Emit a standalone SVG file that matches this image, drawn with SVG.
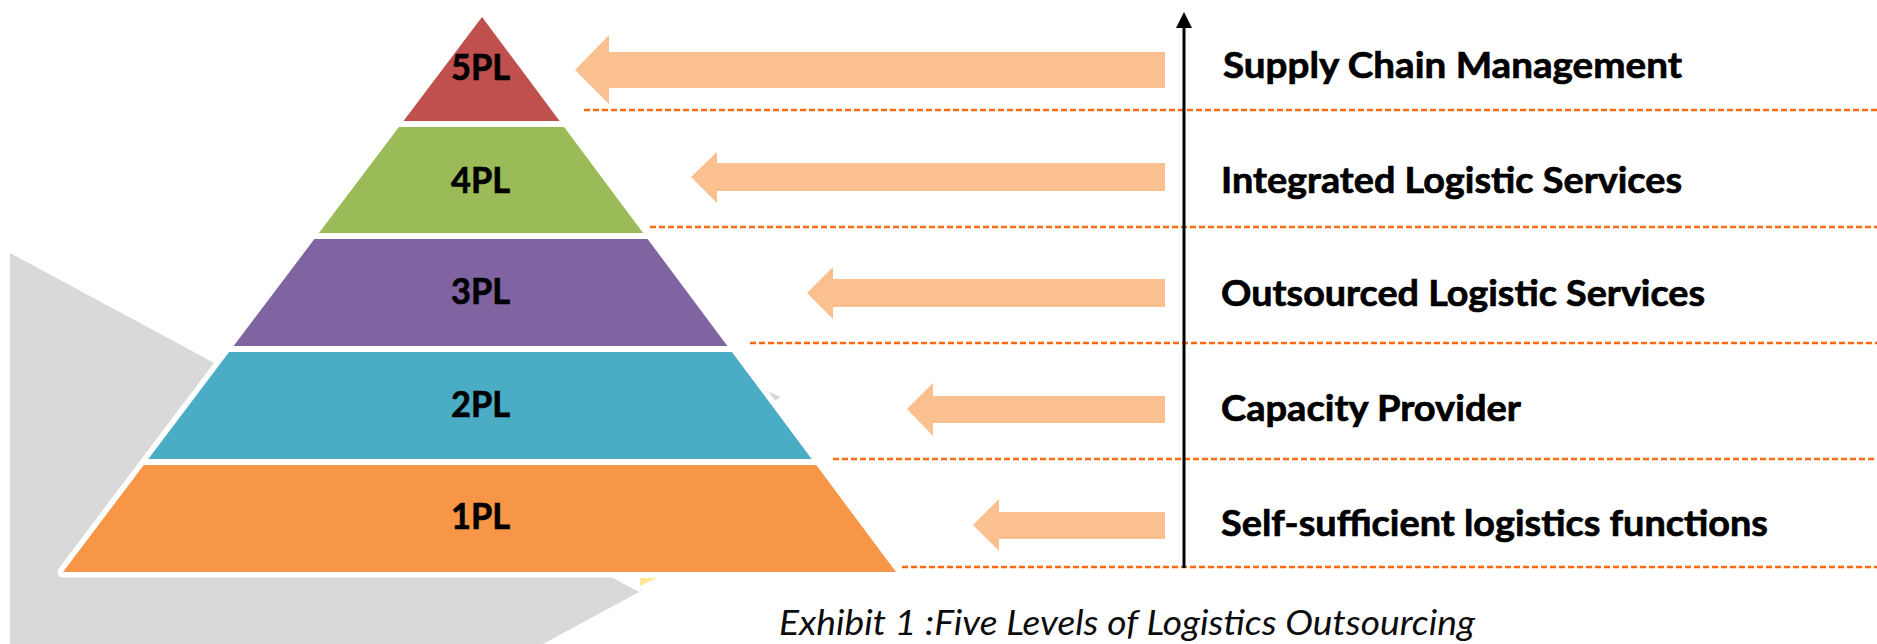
<svg xmlns="http://www.w3.org/2000/svg" width="1877" height="644" viewBox="0 0 1877 644">
<defs>
<style>
.lvl{font-family:Lato,"Open Sans","Liberation Sans",sans-serif;font-weight:bold;font-size:37px;fill:#000;stroke:#000;stroke-width:0.7}
.lab{font-family:Lato,"Open Sans","Liberation Sans",sans-serif;font-weight:bold;font-size:37px;fill:#000;stroke:#000;stroke-width:0.7}
.cap{font-family:Lato,"Open Sans","Liberation Sans",sans-serif;font-style:italic;font-size:34px;fill:#0d0d0d}
.blk{fill:#FAC090}
.dash{stroke:#FF6A10;stroke-width:2.4;stroke-dasharray:6 3;fill:none}
</style>
<marker id="ah" markerWidth="16" markerHeight="16" refX="0" refY="8" orient="auto" markerUnits="userSpaceOnUse" viewBox="0 0 16 16">
<path d="M0,0 L16,8 L0,16 Z" fill="#000"/>
</marker>
</defs>
<rect width="1877" height="644" fill="#fff"/>
<g id="shadow">
<polygon points="10,253 639,592 543,644 10,644" fill="#D9D9D9"/>
<polygon points="767,391 781,397 773,402" fill="#D9D9D9"/>
<polygon points="640,578 657,578 640,586" fill="#FFE699"/>
</g>
<polygon id="pyramid-outline" points="482,17 63,572 896,572" fill="#fff" stroke="#fff" stroke-width="11" stroke-linejoin="round"/>
<g id="level5">
<polygon points="482,17 559.6,121 403.5,121" fill="#C0504D"/>
<text class="lvl" x="451" y="80" textLength="59" lengthAdjust="spacingAndGlyphs">5PL</text>
</g>
<g id="level4">
<polygon points="398.9,127 564.1,127 643.1,233 318.9,233" fill="#9BBB59"/>
<text class="lvl" x="451" y="193" textLength="59" lengthAdjust="spacingAndGlyphs">4PL</text>
</g>
<g id="level3">
<polygon points="314.4,239 647.6,239 727.4,346 233.6,346" fill="#8064A2"/>
<text class="lvl" x="451" y="304" textLength="59" lengthAdjust="spacingAndGlyphs">3PL</text>
</g>
<g id="level2">
<polygon points="229.1,352 731.9,352 811.7,459 148.3,459" fill="#4BACC6"/>
<text class="lvl" x="451" y="417" textLength="59" lengthAdjust="spacingAndGlyphs">2PL</text>
</g>
<g id="level1">
<polygon points="143.8,465 816.2,465 896,572 63,572" fill="#F79646"/>
<text class="lvl" x="451" y="529" textLength="59" lengthAdjust="spacingAndGlyphs">1PL</text>
</g>
<g id="connectors">
<polygon class="blk" points="1165,52 609,52 609,35 575,70 609,104 609,88 1165,88"/>
<polygon class="blk" points="1165,163 717,163 717,152 691,177 717,203 717,191 1165,191"/>
<polygon class="blk" points="1165,279 833,279 833,267 807,293 833,319 833,307 1165,307"/>
<polygon class="blk" points="1165,396 933,396 933,383 907,409 933,436 933,423 1165,423"/>
<polygon class="blk" points="1165,512 999,512 999,499 973,525 999,551 999,539 1165,539"/>
<line class="dash" x1="584" y1="110" x2="1877" y2="110"/>
<line class="dash" x1="650" y1="227" x2="1877" y2="227"/>
<line class="dash" x1="750" y1="343" x2="1877" y2="343"/>
<line class="dash" x1="833" y1="459" x2="1877" y2="459"/>
<line class="dash" x1="902" y1="567" x2="1877" y2="567"/>
<line x1="1184" y1="568" x2="1184" y2="28" stroke="#000" stroke-width="3" marker-end="url(#ah)"/>
</g>
<g id="labels">
<text class="lab" x="1223" y="78" textLength="459" lengthAdjust="spacingAndGlyphs">Supply Chain Management</text>
<text class="lab" x="1221" y="193" textLength="461" lengthAdjust="spacingAndGlyphs">Integrated Logistic Services</text>
<text class="lab" x="1221" y="306" textLength="484" lengthAdjust="spacingAndGlyphs">Outsourced Logistic Services</text>
<text class="lab" x="1221" y="421" textLength="300" lengthAdjust="spacingAndGlyphs">Capacity Provider</text>
<text class="lab" x="1221" y="536" textLength="547" lengthAdjust="spacingAndGlyphs">Self-sufficient logistics functions</text>
</g>
<text id="caption" class="cap" x="779" y="635" textLength="696" lengthAdjust="spacingAndGlyphs">Exhibit 1 :Five Levels of Logistics Outsourcing</text>
</svg>
